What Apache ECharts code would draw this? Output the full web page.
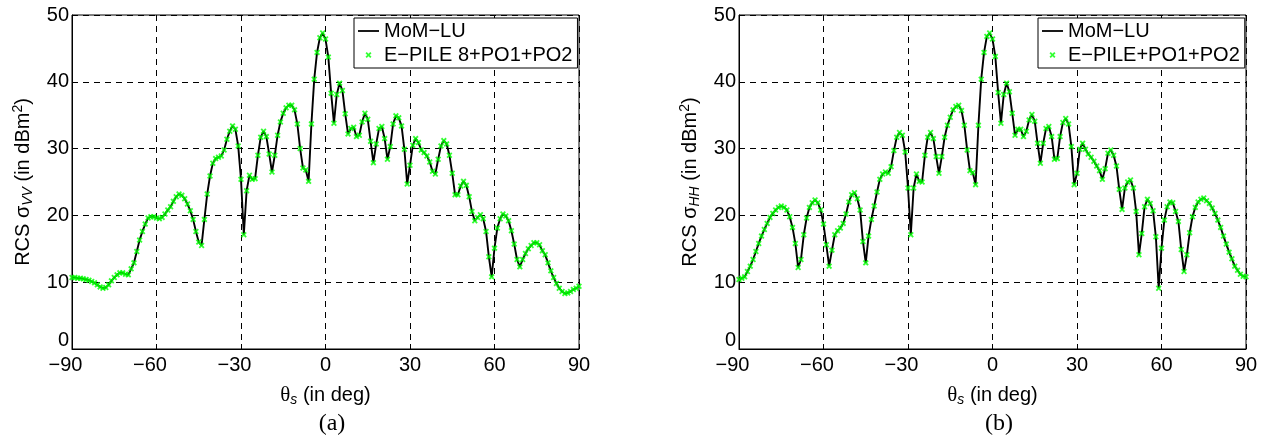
<!DOCTYPE html>
<html>
<head>
<meta charset="utf-8">
<title>RCS versus scattering angle</title>
<script src="https://cdn.jsdelivr.net/npm/echarts@6.0.0/dist/echarts.min.js"></script>
<style>
  html, body { margin: 0; padding: 0; background: #fff; }
  #chart { width: 1272px; height: 439px; }
</style>
</head>
<body>
<div id="chart"></div>
<script>
// Scattering angle, one sample per degree
const THETA = Array.from({ length: 181 }, (_, i) => i - 90);

// VV polarisation, dBm^2
const RCS_VV = [
  10.7, 10.7, 10.6, 10.6, 10.5, 10.4, 10.3, 10.1, 9.9, 9.6,
  9.3, 9.1, 9.2, 9.6, 10.2, 10.7, 11.1, 11.4, 11.4, 11.2,
  11.1, 12.0, 12.9, 14.6, 16.3, 17.6, 18.7, 19.6, 19.8, 19.8,
  19.6, 19.5, 19.7, 20.2, 20.8, 21.3, 22.1, 22.8, 23.2, 23.0,
  22.5, 21.7, 20.7, 19.4, 17.6, 16.0, 15.5, 19.4, 23.2, 25.9,
  27.8, 28.5, 28.7, 28.9, 29.8, 31.4, 32.6, 33.4, 32.9, 30.4,
  25.4, 17.1, 23.7, 26.0, 25.4, 25.5, 29.0, 31.7, 32.6, 31.8,
  29.2, 26.5, 29.0, 32.0, 34.0, 35.3, 36.1, 36.5, 36.5, 35.8,
  33.7, 30.0, 27.1, 26.8, 25.1, 33.7, 40.4, 44.4, 46.6, 47.3,
  46.4, 43.7, 38.3, 33.8, 38.1, 39.8, 38.7, 35.2, 32.2, 33.0,
  33.2, 31.8, 32.0, 34.0, 35.3, 34.4, 31.1, 27.9, 30.7, 33.0,
  33.3, 31.5, 28.4, 30.3, 33.7, 34.9, 34.6, 33.4, 29.9, 24.7,
  27.5, 30.5, 31.5, 30.9, 29.8, 29.4, 28.9, 28.0, 26.6, 26.2,
  28.4, 30.4, 31.2, 30.7, 29.0, 26.3, 23.1, 23.1, 24.4, 25.1,
  24.5, 22.8, 20.6, 19.2, 19.7, 20.1, 19.5, 17.6, 13.8, 10.8,
  15.1, 18.1, 19.5, 20.2, 19.9, 19.2, 17.7, 15.7, 13.4, 12.3,
  13.4, 14.3, 15.0, 15.5, 15.9, 15.9, 15.6, 14.7, 14.1, 12.9,
  11.7, 10.7, 9.8, 9.1, 8.6, 8.3, 8.4, 8.6, 8.9, 9.1,
  9.4
];

// HH polarisation, dBm^2
const RCS_HH = [
  10.4, 10.6, 10.8, 11.6, 12.4, 13.4, 14.6, 15.8, 16.9, 17.9,
  18.8, 19.7, 20.3, 20.8, 21.2, 21.4, 21.2, 20.8, 19.8, 18.2,
  15.8, 12.2, 13.4, 17.1, 19.6, 21.2, 21.9, 22.3, 21.9, 20.8,
  18.7, 15.6, 12.4, 14.8, 17.1, 17.7, 18.1, 18.8, 20.2, 22.0,
  23.1, 23.4, 22.5, 20.8, 16.1, 12.9, 16.9, 19.4, 21.4, 23.5,
  25.4, 26.2, 26.5, 26.3, 27.3, 29.7, 31.7, 32.4, 32.0, 29.5,
  24.1, 17.1, 24.1, 26.2, 25.1, 25.0, 29.0, 31.7, 32.4, 31.5,
  28.8, 26.3, 28.8, 31.7, 33.5, 34.7, 35.8, 36.3, 36.5, 35.7,
  33.5, 29.8, 26.7, 26.4, 24.6, 33.5, 40.4, 44.4, 46.8, 47.3,
  46.4, 43.8, 38.4, 33.8, 38.1, 39.8, 38.5, 35.3, 32.0, 32.9,
  32.9, 31.8, 32.6, 34.3, 35.1, 34.1, 30.8, 27.8, 30.8, 33.0,
  33.3, 31.8, 28.4, 28.5, 31.8, 33.9, 34.5, 33.7, 30.3, 24.6,
  26.3, 29.9, 30.8, 29.9, 29.2, 28.7, 28.1, 27.4, 26.7, 25.4,
  27.0, 29.3, 29.8, 29.0, 27.4, 23.9, 20.9, 24.1, 25.0, 25.3,
  24.1, 20.6, 14.1, 17.3, 21.3, 22.4, 21.8, 20.7, 16.8, 9.1,
  15.1, 19.3, 21.3, 22.0, 21.9, 20.6, 19.1, 14.9, 11.6, 14.1,
  17.4, 19.8, 21.2, 22.0, 22.4, 22.6, 22.2, 21.8, 21.1, 20.3,
  19.3, 18.2, 16.9, 15.7, 14.5, 13.5, 12.4, 11.8, 11.2, 10.9,
  10.8
];

const REFERENCE_NAME = 'MoM\u2212LU';
const FAST_NAMES = ['E\u2212PILE 8+PO1+PO2', 'E\u2212PILE+PO1+PO2'];
const POLARISATIONS = ['VV', 'HH'];
const PANEL_LABELS = ['(a)', '(b)'];
const X_RANGE = [-90, 90, 30];
const Y_RANGE = [0, 50, 10];

const SANS = '"Liberation Sans", Arial, Helvetica, sans-serif';
const SERIF = '"Liberation Serif", "Times New Roman", serif';
// small bold "x" marker inside an empty 20x20 box (the box keeps it small in the legend too)
const CROSS = 'path://M0,0M20,20M7,8.3L8.3,7L10,8.7L11.7,7L13,8.3L11.3,10L13,11.7L11.7,13L10,11.3L8.3,13L7,11.7L8.7,10Z';
// short horizontal stroke used as the legend sample of the solid curve
const STROKE = 'path://M0,0L21,0L21,1.8L0,1.8Z';

const PLOT_LEFT = [72, 739];
const PLOT = { top: 15, width: 507, height: 334 };
const LEGEND_LEFT = [354, 1038];
const PANEL_LABEL_X = [332, 999];

const tickFont = { fontFamily: SANS, fontSize: 20, color: '#000' };

function xAxisFor(i) {
  return {
    gridIndex: i, type: 'value',
    min: X_RANGE[0], max: X_RANGE[1], interval: X_RANGE[2],
    axisLine: { onZero: false, lineStyle: { color: '#000', width: 1 } },
    axisTick: { inside: true, length: 5, lineStyle: { color: '#000' } },
    splitLine: { show: true, lineStyle: { color: '#000', width: 1, type: [6, 5] } },
    axisLabel: {
      margin: 6, ...tickFont,
      formatter: v => v < 0 ? '{n|\u2212' + Math.abs(v) + '}' : String(v),
      rich: { n: { ...tickFont, padding: [0, 13, 0, 0] } }
    },
    name: '{th|\u03b8}{s|s} (in deg)',
    nameLocation: 'middle', nameGap: 34,
    nameTextStyle: {
      fontFamily: SANS, fontSize: 20, color: '#000', lineHeight: 24,
      rich: {
        th: { fontFamily: SERIF, fontSize: 21, color: '#000', lineHeight: 24 },
        s: { fontFamily: SANS, fontStyle: 'italic', fontSize: 14, color: '#000', lineHeight: 14, verticalAlign: 'bottom' }
      }
    }
  };
}

function yAxisFor(i) {
  return {
    gridIndex: i, type: 'value',
    min: Y_RANGE[0], max: Y_RANGE[1], interval: Y_RANGE[2],
    axisLine: { show: true, onZero: false, lineStyle: { color: '#000', width: 1 } },
    axisTick: { show: true, inside: true, length: 5, lineStyle: { color: '#000' } },
    splitLine: { show: true, lineStyle: { color: '#000', width: 1, type: [6, 5] } },
    axisLabel: {
      margin: 3, ...tickFont,
      formatter: v => v === 0 ? '{z|0}' : String(v),
      rich: { z: { ...tickFont, padding: [0, 0, 18, 0] } }
    },
    name: 'RCS \u03c3{sub|' + POLARISATIONS[i] + '} (in dBm{sup|2})',
    nameLocation: 'middle', nameRotate: 90, nameGap: 37,
    nameTextStyle: {
      fontFamily: SANS, fontSize: 20, color: '#000', lineHeight: 24,
      rich: {
        sub: { fontFamily: SANS, fontStyle: 'italic', fontSize: 14, color: '#000', lineHeight: 14, verticalAlign: 'bottom' },
        sup: { fontFamily: SANS, fontSize: 14, color: '#000', lineHeight: 14, verticalAlign: 'top' }
      }
    }
  };
}

const curves = [RCS_VV, RCS_HH];
const series = [];
curves.forEach((values, i) => {
  const pts = THETA.map((t, k) => [t, values[k]]);
  series.push({
    type: 'line', name: REFERENCE_NAME, xAxisIndex: i, yAxisIndex: i,
    data: pts, symbol: 'none', smooth: false,
    lineStyle: { color: '#000', width: 1.9 }, itemStyle: { color: '#000' }, z: 2
  });
  series.push({
    type: 'scatter', name: FAST_NAMES[i], xAxisIndex: i, yAxisIndex: i,
    data: pts, symbol: CROSS, symbolSize: 20,
    itemStyle: { color: '#00ff00' }, z: 3
  });
});

const option = {
  animation: false,
  backgroundColor: '#fff',
  grid: PLOT_LEFT.map(left => ({
    left, top: PLOT.top, width: PLOT.width, height: PLOT.height,
    show: true, borderColor: '#000', borderWidth: 1, backgroundColor: 'transparent'
  })),
  xAxis: [xAxisFor(0), xAxisFor(1)],
  yAxis: [yAxisFor(0), yAxisFor(1)],
  legend: LEGEND_LEFT.map((left, i) => ({
    left, top: 18, orient: 'vertical',
    data: [
      { name: REFERENCE_NAME, icon: STROKE, itemStyle: { color: '#000' } },
      { name: FAST_NAMES[i], icon: CROSS, itemStyle: { color: '#00ff00' } }
    ],
    itemWidth: 21, itemHeight: 20, itemGap: 4,
    padding: [3, 5, 3, 4],
    borderColor: '#000', borderWidth: 1, backgroundColor: '#fff',
    selectedMode: false,
    textStyle: { fontFamily: SANS, fontSize: 20, color: '#000' }
  })),
  graphic: PANEL_LABELS.map((text, i) => ({
    type: 'text', x: PANEL_LABEL_X[i], y: 424,
    style: { text, fontFamily: SERIF, fontSize: 24, fill: '#000', align: 'center', verticalAlign: 'middle' }
  })),
  series
};

const chart = echarts.init(document.getElementById('chart'), null, { renderer: 'canvas' });
chart.setOption(option);
</script>
</body>
</html>
